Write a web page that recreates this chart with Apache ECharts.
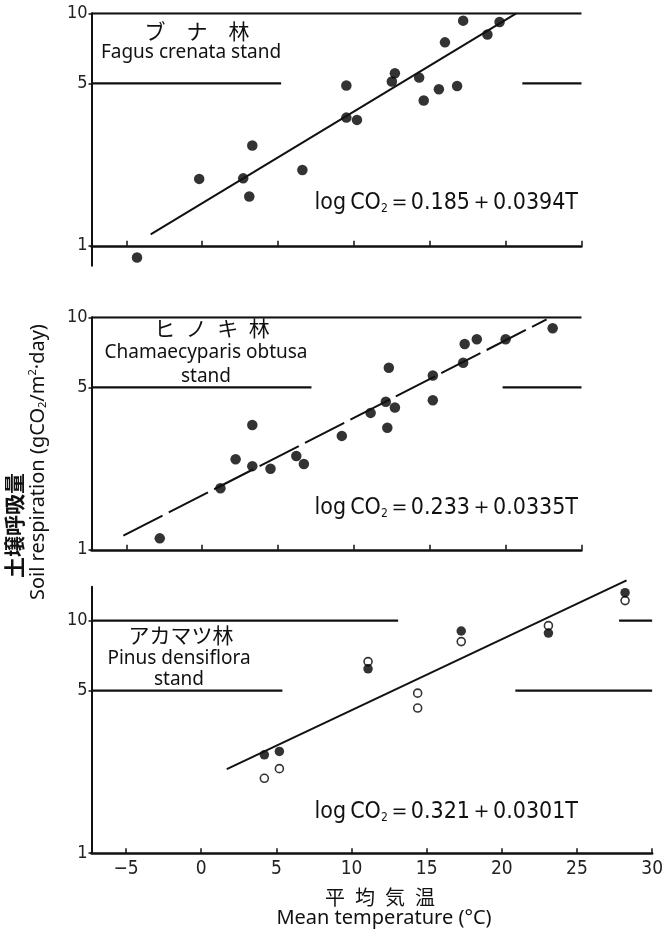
<!DOCTYPE html>
<html lang="ja">
<head>
<meta charset="UTF-8">
<title>Soil respiration and mean temperature</title>
<style>
  html, body { margin: 0; padding: 0; background: #fff; }
  #chart { width: 666px; height: 934px; }
</style>
</head>
<body>
<div id="chart"></div>
<script src="https://cdn.jsdelivr.net/npm/echarts@6/dist/echarts.min.js"></script>
<script>
// ---- data (T = mean temperature °C, CO2 = g/m2/day) ----
// ブナ林 Fagus crenata stand
var bunaT   = [-4.3, -0.2, 2.7, 3.3, 3.1, 6.6, 9.5, 9.5, 10.2, 12.5, 12.7, 14.3, 14.6, 15.6, 16.8, 16.0, 17.2, 18.8, 19.6];
var bunaCO2 = [0.89, 1.94, 1.95, 2.70, 1.63, 2.12, 4.89, 3.56, 3.48, 5.09, 5.52, 5.29, 4.22, 4.71, 4.87, 7.50, 9.30, 8.10, 9.18];
var bunaFit = [[-3.4, 1.12], [20.7, 10.0]];

// ヒノキ林 Chamaecyparis obtusa stand
var hinokiT   = [-2.8, 1.2, 2.2, 3.3, 3.3, 4.5, 6.2, 6.7, 9.2, 11.1, 12.1, 12.7, 12.2, 12.3, 15.2, 15.2, 17.2, 17.3, 18.1, 20.0, 23.1];
var hinokiCO2 = [1.12, 1.84, 2.45, 3.44, 2.29, 2.23, 2.53, 2.34, 3.09, 3.88, 4.33, 4.09, 3.35, 6.07, 5.62, 4.40, 6.38, 7.67, 8.04, 8.04, 8.97];
var hinokiFit = [[-5.2, 1.15], [22.7, 9.8]];

// アカマツ林 Pinus densiflora stand (filled and open circles)
var akaT      = [4.2, 5.2, 11.1, 17.3, 23.1, 28.2];
var akaFilled = [2.65, 2.74, 6.21, 9.03, 8.85, 13.2];
var akaOpenT  = [4.2, 5.2, 11.1, 14.4, 14.4, 17.3, 23.1, 28.2];
var akaOpen   = [2.10, 2.31, 6.67, 4.88, 4.21, 8.13, 9.52, 12.2];
var akaFit    = [[1.7, 2.3], [28.3, 14.9]];

// broken guide lines at 5 and 10 in each panel (x ranges)
var guides = [
  [[[-7.3, 25], 10], [[-7.3, 5.2], 5], [[21.1, 25], 5]],
  [[[-7.3, 25], 10], [[-7.3, 7.2], 5], [[19.8, 25], 5]],
  [[[-7.3, 13.1], 10], [[27.8, 30], 10], [[-7.3, 5.4], 5], [[20.9, 30], 5]]
];

var xTicks = [-5, 0, 5, 10, 15, 20, 25, 30];
var yTicks = [1, 5, 10];
var equations = [['0.185', '0.0394'], ['0.233', '0.0335'], ['0.321', '0.0301']];

// ---- layout ----
var X0 = 91.5, PX = 15.17, DEC = 232.5, XMIN = -7.3;
var panels = [
  { y10: 13.3,  ymin: 0.82, ymax: 10, xmax: 25 },
  { y10: 317.3, ymin: 1,    ymax: 10, xmax: 25 },
  { y10: 620.7, ymin: 1,    ymax: 14, xmax: 30 }
];
var numFont = "'Liberation Sans Narrow', 'DejaVu Sans Condensed', sans-serif";
var ink = '#111';

function lg(v) { return Math.log(v) / Math.LN10; }

var grids = [], xAxes = [], yAxes = [], series = [];

panels.forEach(function (p, i) {
  grids.push({
    left: X0,
    top: p.y10 - DEC * lg(p.ymax / 10),
    width: (p.xmax - XMIN) * PX,
    height: DEC * lg(p.ymax / p.ymin)
  });
  var ticks = xTicks.filter(function (v) { return v <= p.xmax; });
  xAxes.push({
    gridIndex: i, type: 'value', min: XMIN, max: p.xmax,
    position: 'bottom',
    offset: -DEC * lg(1 / p.ymin),
    axisLine: { onZero: false, lineStyle: { color: ink, width: 2.5 } },
    axisTick: { inside: true, length: 5, customValues: ticks, lineStyle: { color: ink, width: 1.5 } },
    axisLabel: {
      show: i === 2, customValues: ticks, margin: 6,
      fontFamily: numFont, fontSize: 19, color: '#222',
      formatter: function (v) { return v < 0 ? '\u2212' + (-v) : String(v); }
    },
    splitLine: { show: false }
  });
  yAxes.push({
    gridIndex: i, type: 'log', logBase: 10, min: p.ymin, max: p.ymax,
    axisLine: { show: true, onZero: false, lineStyle: { color: ink, width: 2 } },
    axisTick: { show: true, length: 3, customValues: yTicks, lineStyle: { color: ink, width: 1.5 } },
    axisLabel: { customValues: yTicks, margin: 4, fontFamily: numFont, fontSize: 18, color: '#222' },
    splitLine: { show: false }
  });
  guides[i].forEach(function (g) {
    series.push({
      type: 'line', xAxisIndex: i, yAxisIndex: i, symbol: 'none', silent: true,
      data: [[g[0][0], g[1]], [g[0][1], g[1]]],
      lineStyle: { color: ink, width: 2.2 }
    });
  });
});

function zip(xs, ys) { return xs.map(function (x, k) { return [x, ys[k]]; }); }

var dot = { color: '#000' };
series.push(
  { type: 'line', xAxisIndex: 0, yAxisIndex: 0, data: bunaFit, symbol: 'none',
    lineStyle: { color: ink, width: 2 } },
  { type: 'scatter', xAxisIndex: 0, yAxisIndex: 0, data: zip(bunaT, bunaCO2),
    symbolSize: 10.5, itemStyle: dot, clip: false },
  { type: 'line', xAxisIndex: 1, yAxisIndex: 1, data: hinokiFit, symbol: 'none',
    lineStyle: { color: ink, width: 2, type: [44, 7] } },
  { type: 'scatter', xAxisIndex: 1, yAxisIndex: 1, data: zip(hinokiT, hinokiCO2),
    symbolSize: 10.5, itemStyle: dot, clip: false },
  { type: 'line', xAxisIndex: 2, yAxisIndex: 2, data: akaFit, symbol: 'none', clip: false,
    lineStyle: { color: ink, width: 2 } },
  { type: 'scatter', xAxisIndex: 2, yAxisIndex: 2, data: zip(akaOpenT, akaOpen),
    symbolSize: 8, itemStyle: { color: '#fff', borderColor: '#000', borderWidth: 1.6 }, clip: false },
  { type: 'scatter', xAxisIndex: 2, yAxisIndex: 2, data: zip(akaT, akaFilled),
    symbolSize: 9.5, itemStyle: dot, clip: false }
);

// ---- text annotations ----
var jp = "'Noto Sans CJK JP', sans-serif";
var en = "'Noto Sans', sans-serif";
function txt(x, y, s, font, size, extra) {
  var st = { text: s, font: size + 'px ' + font, fill: ink, align: 'center', verticalAlign: 'middle' };
  for (var k in extra) st[k] = extra[k];
  return { type: 'text', x: x, y: y, style: st, silent: true };
}

var titles = [
  [['ブ\u3000ナ\u3000林', 197, 31], ['Fagus crenata stand', 191, 53]],
  [['ヒ\u2002ノ\u2002キ\u2002林', 212, 328], ['Chamaecyparis obtusa', 206, 353], ['stand', 206, 377]],
  [['アカマツ林', 181, 635], ['Pinus densiflora', 179, 659], ['stand', 179, 680]]
];
var eqY = [203, 508, 812];

var graphics = [];
titles.forEach(function (t) {
  graphics.push(txt(t[0][1], t[0][2], t[0][0], jp, 21));
  for (var k = 1; k < t.length; k++) graphics.push(txt(t[k][1], t[k][2], t[k][0], en, 19));
});
equations.forEach(function (e, i) {
  graphics.push({
    type: 'text', x: 578, y: eqY[i], silent: true,
    style: {
      text: '{t|log\u2009CO}{s|2}{t|\uFF1D' + e[0] + '\uFF0B' + e[1] + 'T}',
      align: 'right', verticalAlign: 'middle', fill: ink,
      rich: {
        t: { fontFamily: numFont, fontSize: 23, fill: ink },
        s: { fontFamily: numFont, fontSize: 12, fill: ink, padding: [11, 0, 0, 0] }
      }
    }
  });
});

// x axis title
graphics.push(txt(380, 897, '平\u2002均\u2002気\u2002温', jp, 20));
graphics.push(txt(384, 918, 'Mean temperature (°C)', en, 20));

// y axis title (vertical)
graphics.push({
  type: 'text', x: 14, y: 578, rotation: Math.PI / 2, silent: true,
  style: { text: '土壌呼吸量', font: 'bold 21px ' + jp, fill: ink, align: 'left', verticalAlign: 'middle' }
});
graphics.push({
  type: 'text', x: 38, y: 600, rotation: Math.PI / 2, silent: true,
  style: {
    text: '{t|Soil respiration (gCO}{s|2}{t|/m}{p|2}{t|\u00B7day)}',
    align: 'left', verticalAlign: 'middle', fill: ink,
    rich: {
      t: { fontFamily: en, fontSize: 20, fill: ink },
      s: { fontFamily: en, fontSize: 11, fill: ink, padding: [10, 0, 0, 0] },
      p: { fontFamily: en, fontSize: 11, fill: ink, padding: [0, 0, 10, 0] }
    }
  }
});

var chart = echarts.init(document.getElementById('chart'));
chart.setOption({
  backgroundColor: '#fff',
  animation: false,
  grid: grids,
  xAxis: xAxes,
  yAxis: yAxes,
  series: series,
  graphic: graphics
});
</script>
</body>
</html>
